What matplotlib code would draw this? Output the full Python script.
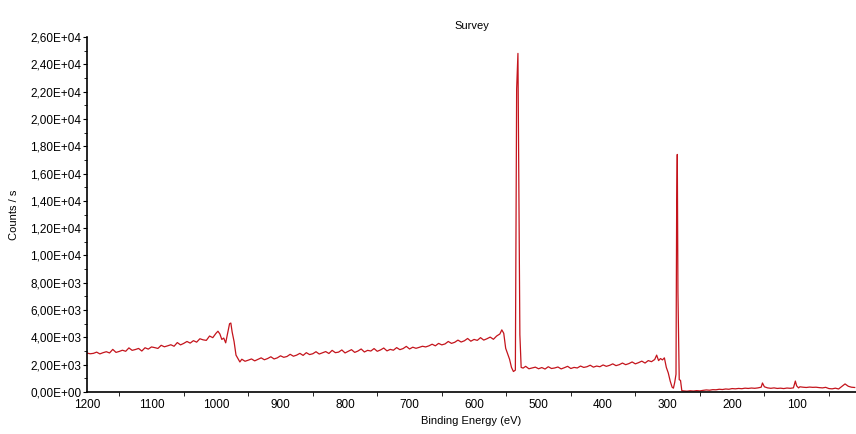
import matplotlib
matplotlib.use("Agg")
import matplotlib.pyplot as plt
from matplotlib.ticker import FuncFormatter, MultipleLocator

plt.rcParams['font.family'] = ['Liberation Sans', 'DejaVu Sans']

# background + O KLL, 1200 -> 527 eV, then the O 1s spike
be_high = [1200, 1195, 1190, 1185, 1180, 1175, 1170, 1165, 1160, 1155, 1150, 1145, 1140, 1135,
           1130, 1125, 1120, 1115, 1110, 1105, 1100, 1095, 1090, 1085, 1080, 1075, 1070, 1065,
           1060, 1055, 1050, 1045, 1040, 1035, 1030, 1025, 1020, 1015, 1010, 1005, 1000, 997,
           994, 991, 988, 985, 982, 979, 977, 975, 972, 969, 966, 963, 960, 955, 950, 945, 940,
           935, 930, 925, 920, 915, 910, 905, 900, 895, 890, 885, 880, 875, 870, 865, 860, 855,
           850, 845, 840, 835, 830, 825, 820, 815, 810, 805, 800, 795, 790, 785, 780, 775, 770,
           765, 760, 755, 750, 745, 740, 735, 730, 725, 720, 715, 710, 705, 700, 695, 690, 685,
           680, 675, 670, 665, 660, 655, 650, 645, 640, 635, 630, 625, 620, 615, 610, 605, 600,
           595, 590, 585, 580, 575, 570, 565, 560, 557, 554, 551, 548, 545, 542, 539, 536, 534,
           532, 529, 527]
cps_high = [2850, 2800, 2830, 2920, 2790, 2880, 2950, 2860, 3120, 2900, 2970, 3060, 2980, 3230,
            3050, 3110, 3190, 3000, 3240, 3140, 3300, 3250, 3190, 3420, 3310, 3380, 3460, 3350,
            3620, 3450, 3560, 3700, 3580, 3760, 3650, 3900, 3820, 3780, 4100, 3980, 4300, 4450,
            4250, 3850, 3950, 3600, 4300, 5000, 5050, 4400, 3700, 2700, 2450, 2200,
            2400, 2250, 2330, 2420, 2280, 2390, 2500, 2360, 2450, 2580, 2420, 2500, 2650, 2540,
            2600, 2760, 2620, 2700, 2830, 2680, 2880, 2740, 2800, 2950, 2780, 2870, 2960, 2820,
            3050, 2880, 2920, 3080, 2860, 2980, 3100, 2900, 3000, 3150, 2930, 3050, 3000, 3180,
            2980, 3080, 3220, 3010, 3120, 3060, 3250, 3100, 3180, 3340, 3150, 3280, 3200, 3270,
            3350, 3300, 3380, 3500, 3380, 3560, 3450, 3520, 3700, 3560, 3640, 3800, 3660, 3750,
            3920, 3720, 3850, 3780, 3980, 3800, 3900, 4020, 3860, 4100, 4250,
            4550, 4300, 3200, 2800, 2400, 1800, 1500, 1600, 22200, 24800, 4200, 1800]

# flat region between O 1s and C 1s
be_mid = [524, 520, 515, 510, 505, 500, 495, 490, 485, 480, 475, 470, 465, 460, 455, 450, 445,
          440, 435, 430, 425, 420, 415, 410, 405, 400, 395, 390, 385, 380, 375, 370, 365, 360,
          355, 350, 345, 340, 335, 330, 325, 320, 317, 314, 311, 308, 305]
cps_mid = [1750, 1880, 1700, 1760, 1820, 1700, 1790, 1680, 1850, 1720, 1760, 1830, 1690, 1780,
           1880, 1720, 1800, 1760, 1900, 1800, 1850, 1960, 1820, 1900, 1850, 1980, 1880, 1950,
           2060, 1930, 2000, 2120, 2000, 2080, 2200, 2060, 2150, 2260, 2120, 2300, 2220, 2380,
           2700, 2300, 2450, 2350, 2500]

# C 1s
be_c1s = [302, 299, 296, 293, 291, 289, 287, 286, 285, 284, 282, 280, 278]
cps_c1s = [1800, 1400, 800, 350, 280, 700, 1300, 13300, 17400, 7300, 900, 850, 100]

# low binding energy tail (Si 2s, Si 2p, O 2s)
be_low = [275, 270, 265, 260, 255, 250, 245, 240, 235, 230, 225, 220, 215, 210, 205, 200, 195,
          190, 185, 180, 175, 170, 165, 160, 155, 153, 150, 145, 140, 135, 130, 125, 120, 115,
          110, 105, 102, 100, 97, 95, 90, 85, 80, 75, 70, 65, 60, 55, 50, 45, 40, 35, 30, 25,
          20, 15, 10]
cps_low = [80, 60, 90, 70, 100, 80, 120, 150, 130, 170, 160, 200, 180, 220, 200, 250, 230, 260,
           240, 280, 260, 290, 270, 300, 350, 660, 380, 300, 270, 300, 260, 280, 250, 290, 270,
           300, 800, 450, 300, 380, 350, 330, 360, 340, 350, 320, 300, 340, 250, 230, 280, 220,
           400, 590, 420, 350, 330]

be = be_high + be_mid + be_c1s + be_low
cps = cps_high + cps_mid + cps_c1s + cps_low

fig = plt.figure(figsize=(8.56, 4.34), dpi=100)
ax = fig.add_axes([0.1016, 0.0968, 0.8984, 0.8179])
ax.plot(be, cps, color='#c4141c', lw=0.9)

ax.set_xlim(1200, 8)
ax.set_ylim(0, 26000)
ax.xaxis.set_major_locator(MultipleLocator(100))
ax.xaxis.set_minor_locator(MultipleLocator(50))
ax.yaxis.set_major_locator(MultipleLocator(2000))
ax.yaxis.set_minor_locator(MultipleLocator(1000))
ax.yaxis.set_major_formatter(FuncFormatter(lambda v, p: f"{v:.2E}".replace('.', ',')))
ax.xaxis.set_major_formatter(FuncFormatter(lambda v, p: f"{int(round(v))}"))

for s in ['top', 'right']:
    ax.spines[s].set_visible(False)
ax.spines['left'].set_linewidth(1.2)
ax.spines['bottom'].set_linewidth(1.2)

ax.tick_params(axis='both', which='both', direction='out', labelsize=8.5, colors='black')
ax.tick_params(axis='x', which='major', length=0, pad=5)
ax.tick_params(axis='x', which='minor', length=3)
ax.tick_params(axis='y', which='major', length=3, pad=1)
ax.tick_params(axis='y', which='minor', length=2)

ax.set_title('Survey', fontsize=8, pad=6)
ax.set_xlabel('Binding Energy (eV)', fontsize=8)
ax.set_ylabel('Counts / s', fontsize=8, labelpad=8)

fig.savefig('out.png', dpi=100)
